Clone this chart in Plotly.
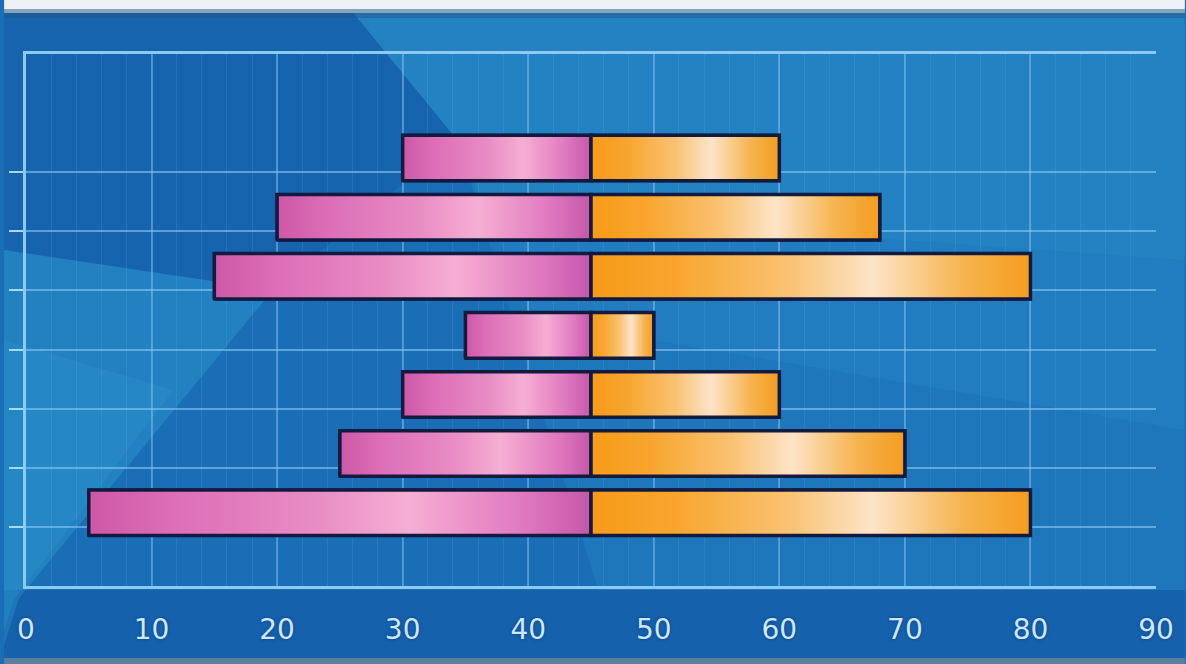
import plotly.graph_objects as go

# ---- data (rows listed bottom -> top) ----
rows = ["R1", "R2", "R3", "R4", "R5", "R6", "R7"]
left_start = [5, 25, 30, 35, 15, 20, 30]      # pink bars run from here to the centre
right_end = [80, 70, 60, 50, 80, 68, 60]      # orange bars run from the centre to here
centre = 45
x_ticks = [0, 10, 20, 30, 40, 50, 60, 70, 80, 90]

# ---- style ----
W, H = 1186, 664
ML, MR, MT, MB = 22, 29, 54, 78
BAR_W = 0.77
BAR_OFF = -0.145
pink_scale = [[0.0, "#cc58a6"], [0.15, "#dc6cb6"], [0.45, "#e88cc4"],
              [0.64, "#f6aed3"], [0.86, "#e07ac0"], [1.0, "#c458aa"]]
orange_scale = [[0.0, "#f79a18"], [0.2, "#f8a630"], [0.45, "#f9c273"],
                [0.64, "#fde4c8"], [0.85, "#f6b34e"], [1.0, "#f59c1e"]]
OUTLINE = "#121a40"

ypos = list(range(1, len(rows) + 1))

fig = go.Figure()

# base bars (solid fallback colours)
fig.add_trace(go.Bar(orientation="h", y=ypos, base=left_start,
                     x=[centre - v for v in left_start], width=BAR_W, offset=BAR_OFF,
                     marker=dict(color="#e48cc4", line=dict(color=OUTLINE, width=3)),
                     showlegend=False))
fig.add_trace(go.Bar(orientation="h", y=ypos, base=[centre] * len(rows),
                     x=[v - centre for v in right_end], width=BAR_W, offset=BAR_OFF,
                     marker=dict(color="#f8bc62", line=dict(color=OUTLINE, width=3)),
                     showlegend=False))

# gradient shading + outline drawn on top (one polygon per half-bar, from the data values)
for y, l, r in zip(ypos, left_start, right_end):
    y0 = y + BAR_OFF
    y1 = y0 + BAR_W
    fig.add_trace(go.Scatter(x=[l, centre, centre, l, l], y=[y0, y0, y1, y1, y0],
                             fill="toself", mode="lines", line=dict(color=OUTLINE, width=3.5),
                             hoverinfo="skip", showlegend=False,
                             fillgradient=dict(type="horizontal", colorscale=pink_scale)))
    fig.add_trace(go.Scatter(x=[centre, r, r, centre, centre], y=[y0, y0, y1, y1, y0],
                             fill="toself", mode="lines", line=dict(color=OUTLINE, width=3.5),
                             hoverinfo="skip", showlegend=False,
                             fillgradient=dict(type="horizontal", colorscale=orange_scale)))

# ---- background decoration (pixel -> paper helpers) ----
pw = W - ML - MR
ph = H - MT - MB


def px(x):
    return (x - ML) / pw


def py(y):
    return (H - MB - y) / ph


def poly(pts, color):
    d = "M " + " L ".join(f"{px(a):.5f},{py(b):.5f}" for a, b in pts) + " Z"
    return dict(type="path", xref="paper", yref="paper", path=d, fillcolor=color,
                line=dict(width=0), layer="below")


def rect(x0, y0, x1, y1, color):
    return dict(type="rect", xref="paper", yref="paper", x0=px(x0), x1=px(x1),
                y0=py(y1), y1=py(y0), fillcolor=color, line=dict(width=0), layer="below")


shapes = [
    # upper-left darker wedge
    poly([(0, 12), (350, 12), (455, 140), (270, 290), (0, 250)], "rgba(8,40,120,0.13)"),
    # upper-right lighter region (soft, layered)
    poly([(350, 12), (1186, 12), (1186, 600), (600, 600), (455, 140)], "rgba(70,200,235,0.10)"),
    poly([(350, 12), (1186, 12), (1186, 430), (530, 320), (455, 140)], "rgba(70,200,235,0.09)"),
    poly([(350, 12), (1186, 12), (1186, 260), (480, 210), (455, 140)], "rgba(70,200,235,0.08)"),
    # bottom label band
    rect(0, 590, 1186, 658, "#1561ab"),
    # lower-left lighter wedge
    poly([(0, 645), (0, 250), (270, 290), (15, 598)], "rgba(70,205,240,0.20)"),
    poly([(0, 630), (0, 340), (170, 390), (10, 600)], "rgba(70,205,240,0.10)"),
    # top white strip + edge
    rect(0, 0, 1186, 9, "#eef1f3"),
    rect(0, 9, 1186, 13, "#86a4b8"),
    rect(0, 13, 1186, 18, "rgba(30,80,140,0.45)"),
    # bottom edge
    rect(0, 658, 1186, 664, "#5b7f9c"),
]

fig.update_layout(
    width=W, height=H,
    margin=dict(l=ML, r=MR, t=MT, b=MB, pad=0),
    paper_bgcolor="#1a6eb6",
    plot_bgcolor="rgba(0,0,0,0)",
    barmode="overlay",
    shapes=shapes,
    showlegend=False,
    xaxis=dict(range=[0, 90], tickvals=x_ticks, ticktext=[str(t) for t in x_ticks],
               showgrid=True, gridcolor="rgba(140,200,245,0.45)", gridwidth=2,
               minor=dict(dtick=2, showgrid=True, gridcolor="rgba(140,200,245,0.12)", gridwidth=1),
               showline=True, linecolor="#8ccaf2", linewidth=3, mirror=True,
               zeroline=False, ticks="", ticklabelstandoff=16,
               tickfont=dict(family="DejaVu Sans, sans-serif",
                             size=28, color="#cfe7ff", shadow="0px 0px 3px #0b3c85")),
    yaxis=dict(range=[0, len(rows) + 2], tickvals=ypos, showticklabels=False,
               showgrid=True, gridcolor="rgba(140,200,245,0.6)", gridwidth=2,
               ticks="outside", ticklen=14, tickwidth=2, tickcolor="#a8d8ff",
               showline=True, linecolor="#8ccaf2", linewidth=3, zeroline=False),
)

fig.write_html("out.html")
